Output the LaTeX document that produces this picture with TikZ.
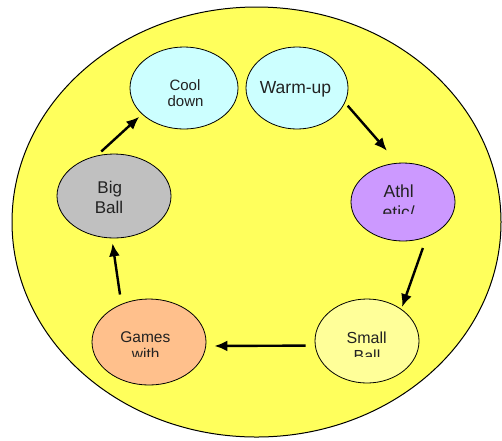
\documentclass[tikz,border=0pt]{standalone}
\usepackage{fontspec}
\setmainfont{Liberation Sans}
\usetikzlibrary{shapes.geometric,arrows.meta}
\definecolor{bgyel}{HTML}{FFFF5C}
\definecolor{cyanfill}{HTML}{CCFFFF}
\definecolor{purp}{HTML}{CC99FF}
\definecolor{grayfill}{HTML}{C0C0C0}
\definecolor{peach}{HTML}{FFC08C}
\definecolor{paleyel}{HTML}{FFFF99}
\definecolor{txt}{HTML}{222222}
\tikzset{
 blob/.style={ellipse, draw=black, line width=0.8pt, inner sep=0pt},
 lbl/.style={anchor=base, inner sep=0pt, text=txt},
 flow/.style={line width=2.4pt, -{Latex[length=13pt,width=11pt]}},
}
\begin{document}
\begin{tikzpicture}[x=1pt,y=-1pt]
\useasboundingbox (0,0) rectangle (502,440);
\node[ellipse, draw=black, fill=bgyel, line width=1pt, minimum width=489pt, minimum height=430pt, inner sep=0pt] (bg) at (256.5,222) {};

\node[blob, fill=cyanfill, minimum width=108pt, minimum height=82pt] (cd) at (184,88) {};
\node[blob, fill=cyanfill, minimum width=102pt, minimum height=82pt] (wu) at (297,88) {};
\node[blob, fill=purp, minimum width=104pt, minimum height=78pt] (ath) at (403,202) {};
\node[blob, fill=grayfill, minimum width=114pt, minimum height=84pt] (bb) at (114,196) {};
\node[blob, fill=peach, minimum width=114pt, minimum height=86pt] (gw) at (149,342) {};
\node[blob, fill=paleyel, minimum width=104pt, minimum height=84pt] (sb) at (367,341) {};

\node[lbl, font=\fontsize{15}{18}\selectfont] (cdt1) at (185,90.7) {Cool};
\node[lbl, font=\fontsize{15}{18}\selectfont] (cdt2) at (185.5,106.7) {down};
\node[lbl, font=\fontsize{17.5}{20}\selectfont] (wut) at (295.5,93) {Warm-up};
\node[lbl, font=\fontsize{17.5}{20}\selectfont] (atht1) at (398.7,197.7) {Athl};
\begin{scope}
\clip (340,150) rectangle (470,213.3);
\node[lbl, font=\fontsize{17.5}{20}\selectfont] (atht2) at (398.7,218) {etic/};
\end{scope}
\node[lbl, font=\fontsize{17}{20}\selectfont] (bbt1) at (109.7,193) {Big};
\node[lbl, font=\fontsize{17}{20}\selectfont] (bbt2) at (109,213) {Ball};
\node[lbl, font=\fontsize{15.5}{18}\selectfont] (gwt1) at (145.3,342.7) {Games};
\begin{scope}
\clip (80,300) rectangle (220,356.7);
\node[lbl, font=\fontsize{15.5}{18}\selectfont] (gwt2) at (145.7,359) {with};
\end{scope}
\node[lbl, font=\fontsize{16}{19}\selectfont] (sbt1) at (366.7,343) {Small};
\begin{scope}
\clip (300,300) rectangle (430,356.7);
\node[lbl, font=\fontsize{16}{19}\selectfont] (sbt2) at (367,361) {Ball};
\end{scope}

\draw[flow, shorten <=4pt, shorten >=16pt] (wu.-17.6) -- (ath.98.1);
\draw[flow, shorten <=11.5pt, shorten >=2pt] (ath.-56.2) -- (sb.43.9);
\draw[flow, shorten <=9.4pt, shorten >=8.3pt] (sb.185.5) -- (gw.-4);
\draw[flow, shorten <=9.5pt, shorten >=5pt] (gw.126.3) -- (bb.-93.8);
\draw[flow, shorten <=6pt, shorten >=3.7pt] (bb.113.6) -- (cd.212.75);
\end{tikzpicture}
\end{document}
